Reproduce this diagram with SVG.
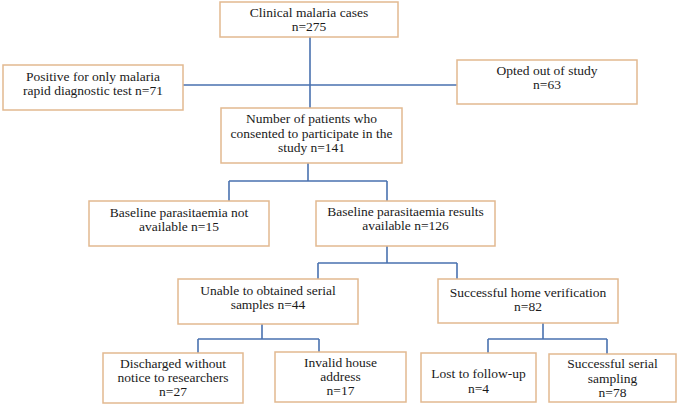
<svg xmlns="http://www.w3.org/2000/svg" width="678" height="406" viewBox="0 0 678 406">
<style>
.box{fill:#fff;stroke:#E2B990;stroke-width:1.5}
.ln{fill:none;stroke:#4A72B0;stroke-width:1.6}
.t{font-family:'Liberation Serif','Times New Roman',Times,serif;font-size:13.5px;fill:#1a1a1a;text-anchor:middle}
</style>
<rect width="678" height="406" fill="#fff"/>
<g id="connectors">
<path class="ln" d="M310 37V108M183 85H457"/>
<path class="ln" d="M308 163V181M229 181H387M229 181V201M387 181V201"/>
<path class="ln" d="M387 246V263M318 263H457M318 263V279M457 263V279"/>
<path class="ln" d="M262 324V339M198 339H319M198 339V353M319 339V352"/>
<path class="ln" d="M543 323V339M488 339H607M488 339V353M607 339V354"/>
</g>
<g id="n1"><rect class="box" x="220" y="2" width="178" height="35"/><text class="t" x="309" y="17">Clinical malaria cases</text><text class="t" x="309" y="31">n=275</text></g>
<g id="n2"><rect class="box" x="3" y="65" width="180" height="45"/><text class="t" x="93" y="81">Positive for only malaria</text><text class="t" x="93" y="95">rapid diagnostic test n=71</text></g>
<g id="n3"><rect class="box" x="457" y="60" width="180" height="44"/><text class="t" x="547" y="75">Opted out of study</text><text class="t" x="547" y="89">n=63</text></g>
<g id="n4"><rect class="box" x="221" y="108" width="181" height="55"/><text class="t" x="311.5" y="123">Number of patients who</text><text class="t" x="311.5" y="138">consented to participate in the</text><text class="t" x="311.5" y="152">study n=141</text></g>
<g id="n5"><rect class="box" x="89" y="201" width="180" height="45"/><text class="t" x="179" y="217">Baseline parasitaemia not</text><text class="t" x="179" y="231">available n=15</text></g>
<g id="n6"><rect class="box" x="316" y="201" width="179" height="45"/><text class="t" x="405.5" y="216">Baseline parasitaemia results</text><text class="t" x="405.5" y="230">available n=126</text></g>
<g id="n7"><rect class="box" x="178" y="279" width="180" height="45"/><text class="t" x="268" y="295">Unable to obtained serial</text><text class="t" x="268" y="309">samples n=44</text></g>
<g id="n8"><rect class="box" x="438" y="279" width="180" height="44"/><text class="t" x="528" y="297">Successful home verification</text><text class="t" x="528" y="311">n=82</text></g>
<g id="n9"><rect class="box" x="103" y="353" width="140" height="50"/><text class="t" x="173" y="368">Discharged without</text><text class="t" x="173" y="382">notice to researchers</text><text class="t" x="173" y="396">n=27</text></g>
<g id="n10"><rect class="box" x="275" y="352" width="131" height="50"/><text class="t" x="340.5" y="367">Invalid house</text><text class="t" x="340.5" y="381">address</text><text class="t" x="340.5" y="395">n=17</text></g>
<g id="n11"><rect class="box" x="421" y="353" width="115" height="49"/><text class="t" x="478.5" y="378">Lost to follow-up</text><text class="t" x="478.5" y="393">n=4</text></g>
<g id="n12"><rect class="box" x="549" y="354" width="127" height="48"/><text class="t" x="612.5" y="368">Successful serial</text><text class="t" x="612.5" y="383">sampling</text><text class="t" x="612.5" y="397">n=78</text></g>
</svg>
